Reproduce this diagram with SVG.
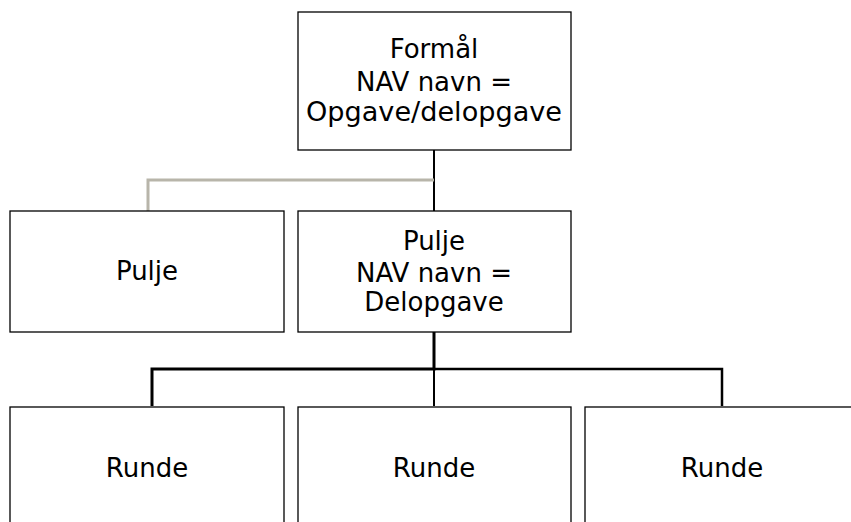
<svg xmlns="http://www.w3.org/2000/svg" width="851" height="522" viewBox="0 0 851 522">
<style>
.box{fill:#fff;stroke:#000;stroke-width:1.3}
.t{font-family:"DejaVu Sans",Verdana,sans-serif;font-size:26px;fill:#000;text-anchor:middle}
.c{fill:none;stroke:#000}
</style>
<rect width="851" height="522" fill="#fff"/>
<g id="connectors">
<path d="M434,150 V211" class="c" stroke-width="2"/>
<path d="M434,180 H148 V211" fill="none" stroke="#b8b5aa" stroke-width="3"/>
<path d="M434,332 V369 H152 V406" class="c" stroke-width="3"/>
<path d="M434,369 H722 V406" class="c" stroke-width="2.5"/>
<path d="M434,369 V406" class="c" stroke-width="2"/>
</g>
<g id="n-formal">
<rect x="298" y="12" width="273" height="138" class="box"/>
<text class="t" x="434" y="58">Formål</text>
<text class="t" x="434" y="91">NAV navn =</text>
<text class="t" x="434" y="121" textLength="256" lengthAdjust="spacingAndGlyphs">Opgave/delopgave</text>
</g>
<g id="n-pulje1">
<rect x="10" y="211" width="274" height="121" class="box"/>
<text class="t" x="147" y="280">Pulje</text>
</g>
<g id="n-pulje2">
<rect x="298" y="211" width="273" height="121" class="box"/>
<text class="t" x="434" y="250">Pulje</text>
<text class="t" x="434" y="282">NAV navn =</text>
<text class="t" x="434" y="311">Delopgave</text>
</g>
<g id="n-runde1">
<rect x="10" y="407" width="274" height="130" class="box"/>
<text class="t" x="147" y="477">Runde</text>
</g>
<g id="n-runde2">
<rect x="298" y="407" width="273" height="130" class="box"/>
<text class="t" x="434" y="477">Runde</text>
</g>
<g id="n-runde3">
<rect x="585" y="407" width="280" height="130" class="box"/>
<text class="t" x="722" y="477">Runde</text>
</g>
</svg>
